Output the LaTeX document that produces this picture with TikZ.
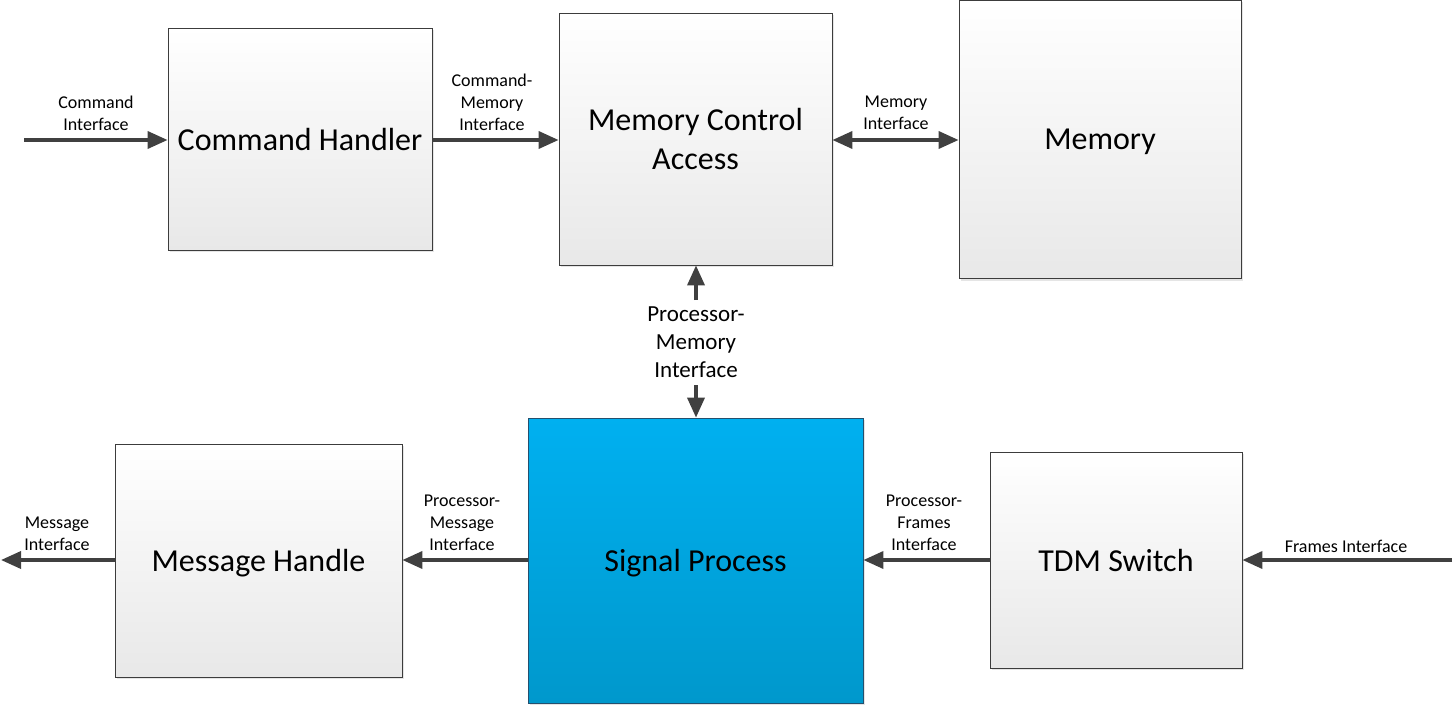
\documentclass[tikz,border=0pt]{standalone}
\usepackage{fontspec}
\setmainfont{Carlito}
\usetikzlibrary{arrows.meta,shadows}
\definecolor{arrgray}{HTML}{404040}
\definecolor{boxline}{HTML}{3C3C3C}
\definecolor{sptop}{HTML}{00B0F0}
\definecolor{spbot}{HTML}{0098CC}
\definecolor{spline}{HTML}{24506E}
\begin{document}
\begin{tikzpicture}[x=1pt,y=-1pt,
  graybox/.style={rectangle,draw=boxline,line width=0.8pt,top color=white,bottom color=black!9,
    drop shadow={shadow xshift=2pt,shadow yshift=-2pt,opacity=0.25,fill=black!40},
    font=\fontsize{32}{39}\selectfont,align=center,inner sep=0pt,text depth=0pt},
  bluebox/.style={rectangle,draw=spline,line width=0.8pt,top color=sptop,bottom color=spbot,
    drop shadow={shadow xshift=2pt,shadow yshift=-2pt,opacity=0.25,fill=black!40},
    font=\fontsize{32}{39}\selectfont,align=center,inner sep=0pt,text depth=0pt},
  lbl/.style={font=\fontsize{18}{22}\selectfont,align=center,inner sep=0pt},
  biglbl/.style={font=\fontsize{23}{28}\selectfont,align=center,inner sep=0pt},
  arr/.style={draw=arrgray,line width=3.6pt,-{Triangle[length=20pt,width=17pt]}},
  darr/.style={draw=arrgray,line width=3.6pt,{Triangle[length=20pt,width=17pt]}-{Triangle[length=20pt,width=17pt]}}
]
\useasboundingbox (0,0) rectangle (1456,706);
% boxes
\node[graybox,minimum width=264pt,minimum height=222pt] (ch) at (300,139) {Command Handler};
\node[graybox,minimum width=273pt,minimum height=252pt] (mca) at (695.5,139) {Memory Control\\Access};
\node[graybox,minimum width=282pt,minimum height=278pt] (mem) at (1100,139.5) {Memory};
\node[bluebox,minimum width=335pt,minimum height=285pt] (sp) at (695.5,560.5) {Signal Process};
\node[graybox,minimum width=287pt,minimum height=233pt] (mh) at (258.5,560.5) {Message Handle};
\node[graybox,minimum width=252pt,minimum height=216pt] (tdm) at (1116,560) {TDM Switch};
% external ends
\coordinate (cin) at (24,140);
\coordinate (mout) at (1,560);
\coordinate (fin) at (1452,560);
\coordinate (pmtop) at (696,300);
\coordinate (pmbot) at (696,385);
% connectors
\draw[arr] (cin) -- (cin -| ch.west);
\draw[arr] (ch.east |- cin) -- (mca.west |- cin);
\draw[darr] (mca.east |- cin) -- (mem.west |- cin);
\draw[arr] (pmtop) -- (pmtop |- mca.south);
\draw[arr] (pmbot) -- (pmbot |- sp.north);
\draw[arr] (sp.west |- mout) -- (mh.east |- mout);
\draw[arr] (mh.west |- mout) -- (mout);
\draw[arr] (tdm.west |- fin) -- (sp.east |- fin);
\draw[arr] (fin) -- (fin -| tdm.east);
% labels
\node[lbl] (lci) at (96,113) {Command\\Interface};
\node[lbl] (lcm) at (492,102) {Command-\\Memory\\Interface};
\node[lbl] (lmi) at (896,113) {Memory\\Interface};
\node[biglbl] (lpm) at (696,342) {Processor-\\Memory\\Interface};
\node[lbl] (lpmsg) at (462,523) {Processor-\\Message\\Interface};
\node[lbl] (lpf) at (924,523) {Processor-\\Frames\\Interface};
\node[lbl] (lfi) at (1346,546) {Frames Interface};
\node[lbl] (lmsg) at (57,534) {Message\\Interface};
\end{tikzpicture}
\end{document}
